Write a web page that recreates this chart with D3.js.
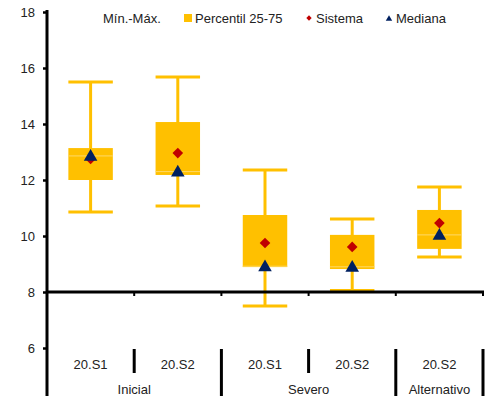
<!DOCTYPE html>
<html><head><meta charset="utf-8">
<script src="https://cdn.jsdelivr.net/npm/d3@7"></script>
<style>body{margin:0;background:#fff}svg{display:block;font-family:"Liberation Sans",Arial,sans-serif}</style>
</head><body><svg id="c" width="492" height="396"></svg>
<script>
const categories = ["20.S1","20.S2","20.S1","20.S2","20.S2"];
const groups = ["Inicial","Inicial","Severo","Severo","Alternativo"];
const minVals = [10.86, 11.07, 7.5, 8.05, 9.25];
const maxVals = [15.5, 15.68, 12.36, 10.61, 11.75];
const p25 = [12.0, 12.18, 8.89, 8.82, 9.54];
const p75 = [13.14, 14.07, 10.75, 10.04, 10.93];
const median = [12.86, 12.3, 8.92, 8.9, 10.04];
const sistema = [12.75, 12.96, 9.75, 9.61, 10.46];
const yTicks = [6, 8, 10, 12, 14, 16, 18];
const legendLabels = ["Mín.-Máx.", "Percentil 25-75", "Sistema", "Mediana"];

const svg = d3.select("#c");
const keys = categories.map((c, i) => i);
const x = d3.scaleBand().domain(keys).range([47, 483]);
const y = d3.scaleLinear().domain([6, 18]).range([348, 12]);
const gold = "#FFC000", red = "#C00000", navy = "#002060";
const bw = x.bandwidth();
const boxW = bw * 0.51;

const plot = svg.append("g");
keys.forEach(i => {
  const cx = x(i) + bw / 2;
  plot.append("line").attr("x1", cx).attr("x2", cx).attr("y1", y(maxVals[i])).attr("y2", y(minVals[i]))
    .attr("stroke", gold).attr("stroke-width", 3);
  [maxVals[i], minVals[i]].forEach(v => {
    plot.append("line").attr("x1", cx - boxW / 2).attr("x2", cx + boxW / 2).attr("y1", y(v)).attr("y2", y(v))
      .attr("stroke", gold).attr("stroke-width", 3);
  });
  plot.append("rect").attr("x", cx - boxW / 2).attr("width", boxW)
    .attr("y", y(p75[i])).attr("height", y(p25[i]) - y(p75[i])).attr("fill", gold);
  plot.append("line").attr("x1", cx - boxW / 2).attr("x2", cx + boxW / 2).attr("y1", y(median[i])).attr("y2", y(median[i]))
    .attr("stroke", "#FFD966").attr("stroke-width", 1);
  plot.append("path").attr("d", d3.symbol(d3.symbolDiamond2, 72)()).attr("fill", red)
    .attr("transform", `translate(${cx},${y(sistema[i])})`);
  plot.append("path").attr("d", d3.symbol(d3.symbolTriangle, 80)()).attr("fill", navy)
    .attr("transform", `translate(${cx},${y(median[i]) + 1})`);
});

const yAxis = svg.append("g").attr("transform", "translate(47,0)")
  .call(d3.axisLeft(y).tickValues(yTicks).tickSize(4).tickPadding(8));
yAxis.select(".domain").remove();
yAxis.selectAll(".tick line").attr("stroke", "#000").attr("stroke-width", 2.5);
yAxis.selectAll("text").attr("font-size", 13).attr("fill", "#222").attr("font-family", "Liberation Sans, Arial, sans-serif");
svg.append("line").attr("x1", 47).attr("x2", 47).attr("y1", 10).attr("y2", 396).attr("stroke", "#000").attr("stroke-width", 3);

svg.append("line").attr("x1", 46).attr("x2", 484).attr("y1", y(8)).attr("y2", y(8)).attr("stroke", "#000").attr("stroke-width", 3);
keys.forEach(i => {
  const bx = x(i) + bw;
  svg.append("line").attr("x1", bx).attr("x2", bx).attr("y1", y(8)).attr("y2", y(8) + 4).attr("stroke", "#000").attr("stroke-width", 2);
});

keys.forEach(i => {
  svg.append("text").attr("x", x(i) + bw / 2).attr("y", 364).attr("dy", "0.35em").attr("text-anchor", "middle")
    .attr("font-size", 13).attr("fill", "#222").text(categories[i]);
});
keys.forEach(i => {
  const bx = x(i) + bw;
  const isGroupEnd = i === keys.length - 1 || groups[i] !== groups[i + 1];
  svg.append("line").attr("x1", bx).attr("x2", bx).attr("y1", 349).attr("y2", isGroupEnd ? 396 : 373)
    .attr("stroke", "#000").attr("stroke-width", 3);
});
const uniq = [...new Set(groups)];
uniq.forEach(g => {
  const idx = keys.filter(i => groups[i] === g);
  const x0 = x(idx[0]), x1 = x(idx[idx.length - 1]) + bw;
  svg.append("text").attr("x", (x0 + x1) / 2).attr("y", 389).attr("dy", "0.35em").attr("text-anchor", "middle")
    .attr("font-size", 13).attr("fill", "#222").text(g);
});

const lg = svg.append("g").attr("font-size", 13).attr("fill", "#222");
lg.append("text").attr("x", 103).attr("y", 18).attr("dy", "0.35em").text(legendLabels[0]);
lg.append("rect").attr("x", 184).attr("y", 14).attr("width", 8).attr("height", 8).attr("fill", gold);
lg.append("text").attr("x", 195).attr("y", 18).attr("dy", "0.35em").text(legendLabels[1]);
lg.append("path").attr("d", d3.symbol(d3.symbolDiamond2, 18)()).attr("fill", red).attr("transform", "translate(309,18)");
lg.append("text").attr("x", 316).attr("y", 18).attr("dy", "0.35em").text(legendLabels[2]);
lg.append("path").attr("d", d3.symbol(d3.symbolTriangle, 18)()).attr("fill", navy).attr("transform", "translate(389,19)");
lg.append("text").attr("x", 396).attr("y", 18).attr("dy", "0.35em").text(legendLabels[3]);
</script></body></html>
